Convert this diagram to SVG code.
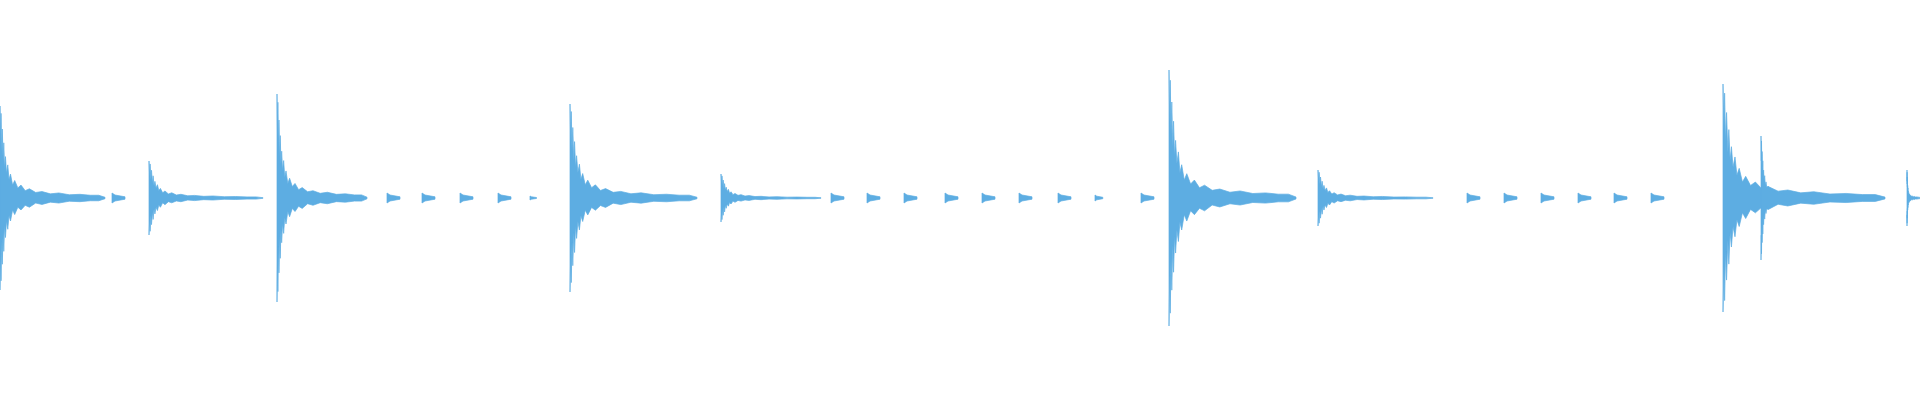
<svg xmlns="http://www.w3.org/2000/svg" width="1920" height="400" viewBox="0 0 1920 400">
<style>.s{fill:#5dade2;stroke:#5dade2;stroke-width:0.7;vector-effect:non-scaling-stroke}</style>
<defs>
<path id="burst" class="s" d="M0,-1 L0.6,-0.6 L1,-0.92 L1.6,-0.5 L2.2,-0.75 L3,-0.4 L3.6,-0.6 L4.4,-0.33 L5.2,-0.45 L6.2,-0.27 L7.4,-0.36 L8.6,-0.2 L10,-0.26 L12,-0.14 L14,-0.19 L17,-0.11 L20,-0.14 L24,-0.08 L28,-0.1 L34,-0.06 L40,-0.07 L48,-0.045 L56,-0.055 L66,-0.035 L76,-0.04 L86,-0.03 L94,-0.03 L100,-0.008 L100,0.008 L94,0.03 L86,0.03 L76,0.04 L66,0.035 L56,0.055 L48,0.045 L40,0.07 L34,0.055 L28,0.1 L24,0.08 L20,0.13 L17,0.1 L14,0.18 L12,0.13 L10,0.25 L8.6,0.19 L7.4,0.34 L6.2,0.25 L5.2,0.43 L4.4,0.3 L3.6,0.58 L3,0.37 L2.2,0.72 L1.6,0.47 L1,0.9 L0.6,0.6 L0,1 Z"/>
<path id="blip" class="s" d="M0,-5 L3,-3 L13,-1.2 L13,1.2 L3,3 L0,5 Z"/>
</defs>
<g id="waveform">
<use href="#burst" transform="translate(0,198) scale(1.05,92)"/>
<use href="#blip" transform="translate(112,198)"/>
<use href="#burst" transform="translate(149,198) scale(1.14,37)"/>
<use href="#burst" transform="translate(277,198) scale(0.9,104)"/>
<use href="#blip" transform="translate(387,198)"/>
<use href="#blip" transform="translate(422,198)"/>
<use href="#blip" transform="translate(460,198)"/>
<use href="#blip" transform="translate(498,198)"/>
<use href="#blip" transform="translate(530,198) scale(0.5,0.4)"/>
<use href="#burst" transform="translate(570,198) scale(1.27,94)"/>
<use href="#burst" transform="translate(721,198) scale(1.0,24)"/>
<use href="#blip" transform="translate(831,198)"/>
<use href="#blip" transform="translate(867,198)"/>
<use href="#blip" transform="translate(904,198)"/>
<use href="#blip" transform="translate(945,198)"/>
<use href="#blip" transform="translate(982,198)"/>
<use href="#blip" transform="translate(1019,198)"/>
<use href="#blip" transform="translate(1058,198)"/>
<use href="#blip" transform="translate(1095,198) scale(0.6,0.6)"/>
<use href="#blip" transform="translate(1141,198)"/>
<use href="#burst" transform="translate(1169,198) scale(1.27,128)"/>
<use href="#burst" transform="translate(1318,198) scale(1.15,28)"/>
<use href="#blip" transform="translate(1467,198)"/>
<use href="#blip" transform="translate(1504,198)"/>
<use href="#blip" transform="translate(1541,198)"/>
<use href="#blip" transform="translate(1578,198)"/>
<use href="#blip" transform="translate(1614,198)"/>
<use href="#blip" transform="translate(1651,198)"/>
<use href="#burst" transform="translate(1723,198) scale(1.62,114)"/>
<use href="#burst" transform="translate(1761,198) scale(0.5,62)"/>
<use href="#burst" transform="translate(1907,198) scale(0.13,28)"/>
</g>
</svg>
